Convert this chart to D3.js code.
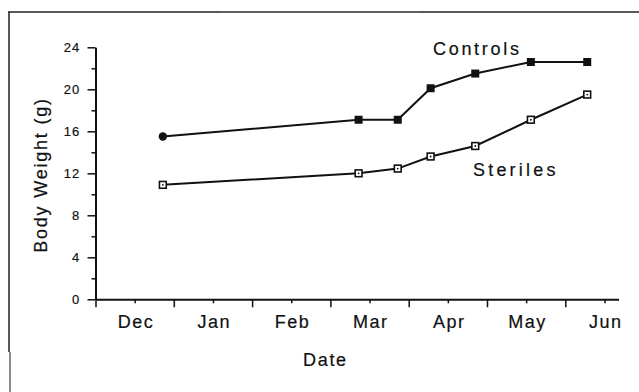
<!DOCTYPE html>
<html>
<head>
<meta charset="utf-8">
<script src="https://cdn.jsdelivr.net/npm/d3@7"></script>
<style>
  html, body { margin: 0; padding: 0; background: #fff; }
  svg { display: block; }
  text { font-family: "Liberation Sans", Arial, Helvetica, sans-serif; fill: #111; stroke: #111; stroke-width: 0.2px; }
</style>
</head>
<body>
<svg id="chart" width="639" height="392"></svg>
<script>
// ---- data (x = months after Dec label, Dec = 0) ----
const monthLabels = ["Dec", "Jan", "Feb", "Mar", "Apr", "May", "Jun"];
const sampleMonths = [0.36, 2.86, 3.36, 3.78, 4.35, 5.06, 5.78];
const controls = [15.5, 17.1, 17.1, 20.1, 21.5, 22.6, 22.6];
const steriles = [10.9, 12.0, 12.45, 13.6, 14.6, 17.1, 19.5];
const yMajorTicks = [0, 4, 8, 12, 16, 20, 24];
const yMinorTicks = [2, 6, 10, 14, 18, 22];
const seriesNames = ["Controls", "Steriles"];

const svg = d3.select("#chart");

// frame lines (scanned page border)
svg.append("line").attr("x1", 8).attr("x2", 639).attr("y1", 12).attr("y2", 12)
  .attr("stroke", "#222").attr("stroke-width", 1.5);
svg.append("line").attr("x1", 222).attr("x2", 418).attr("y1", 12).attr("y2", 12)
  .attr("stroke", "#666").attr("stroke-width", 1.5);
svg.append("line").attr("x1", 9).attr("x2", 9).attr("y1", 12).attr("y2", 352)
  .attr("stroke", "#222").attr("stroke-width", 1.5);
svg.append("line").attr("x1", 10).attr("x2", 10).attr("y1", 352).attr("y2", 392)
  .attr("stroke", "#666").attr("stroke-width", 1.5);

const x = d3.scaleLinear().domain([-0.5, 6.18]).range([95.5, 95.5 + 6.68 * 78.3]);
const y = d3.scaleLinear().domain([0, 24]).range([299.3, 47.3]);

const axisColor = "#111";

// Y axis
const yAxis = svg.append("g").attr("transform", `translate(${x(-0.5)},0)`)
  .call(d3.axisLeft(y).tickValues(yMajorTicks).tickSize(8).tickSizeOuter(0).tickFormat(d3.format("d")));
yAxis.select(".domain").attr("stroke", axisColor).attr("stroke-width", 2);
yAxis.selectAll(".tick line").attr("stroke", axisColor).attr("stroke-width", 1.5);
yAxis.selectAll(".tick text")
  .attr("x", -15).attr("dy", "0.36em")
  .style("font-size", "13px").style("letter-spacing", "1.2px").attr("fill", "#111");
const yMinor = svg.append("g").attr("transform", `translate(${x(-0.5)},0)`)
  .call(d3.axisLeft(y).tickValues(yMinorTicks).tickSize(4).tickSizeOuter(0).tickFormat(""));
yMinor.select(".domain").remove();
yMinor.selectAll(".tick line").attr("stroke", axisColor).attr("stroke-width", 1.5);

// X axis
const xMajor = monthLabels.map((m, i) => i - 0.5);
const xAxis = svg.append("g").attr("transform", `translate(0,${y(0)})`)
  .call(d3.axisBottom(x).tickValues(xMajor).tickSize(8).tickSizeOuter(0).tickFormat(""));
xAxis.select(".domain").attr("stroke", axisColor).attr("stroke-width", 2);
xAxis.selectAll(".tick line").attr("stroke", axisColor).attr("stroke-width", 1.5);
const xMinor = svg.append("g").attr("transform", `translate(0,${y(0)})`)
  .call(d3.axisBottom(x).tickValues(monthLabels.map((m, i) => i)).tickSize(4).tickSizeOuter(0)
    .tickFormat(i => monthLabels[i]));
xMinor.select(".domain").remove();
xMinor.selectAll(".tick line").attr("stroke", axisColor).attr("stroke-width", 1.5);
xMinor.selectAll(".tick text")
  .attr("y", 29).attr("dy", 0).attr("dx", 0.8)
  .style("font-size", "18px").style("letter-spacing", "1.5px").attr("fill", "#111");

// axis titles
svg.append("text").attr("x", 303).attr("y", 366)
  .style("font-size", "18px").style("letter-spacing", "1.7px").text("Date");
svg.append("text")
  .attr("transform", "translate(46.5,175) rotate(-90)")
  .attr("text-anchor", "middle")
  .style("font-size", "18px").style("letter-spacing", "1.8px").text("Body Weight (g)");

// lines
const line = d3.line().x((d, i) => x(sampleMonths[i])).y(d => y(d));
svg.append("path").datum(controls).attr("d", line)
  .attr("fill", "none").attr("stroke", "#111").attr("stroke-width", 2);
svg.append("path").datum(steriles).attr("d", line)
  .attr("fill", "none").attr("stroke", "#111").attr("stroke-width", 2);

// controls markers: first is a filled circle, rest filled squares
controls.forEach((d, i) => {
  if (i === 0) {
    svg.append("circle").attr("cx", x(sampleMonths[i])).attr("cy", y(d)).attr("r", 4.2).attr("fill", "#111");
  } else {
    svg.append("rect").attr("x", x(sampleMonths[i]) - 4).attr("y", y(d) - 4)
      .attr("width", 8).attr("height", 8).attr("fill", "#111");
  }
});
// steriles markers: open squares with centre dot
steriles.forEach((d, i) => {
  const cx = x(sampleMonths[i]), cy = y(d);
  svg.append("rect").attr("x", cx - 3.4).attr("y", cy - 3.4)
    .attr("width", 6.8).attr("height", 6.8).attr("fill", "#fff").attr("stroke", "#111").attr("stroke-width", 1.6);
  svg.append("circle").attr("cx", cx).attr("cy", cy).attr("r", 0.9).attr("fill", "#111");
});

// series labels
svg.append("text").attr("x", 433).attr("y", 55)
  .style("font-size", "18px").style("letter-spacing", "2.7px").text(seriesNames[0]);
svg.append("text").attr("x", 473).attr("y", 176)
  .style("font-size", "18px").style("letter-spacing", "3.2px").text(seriesNames[1]);
</script>
</body>
</html>
